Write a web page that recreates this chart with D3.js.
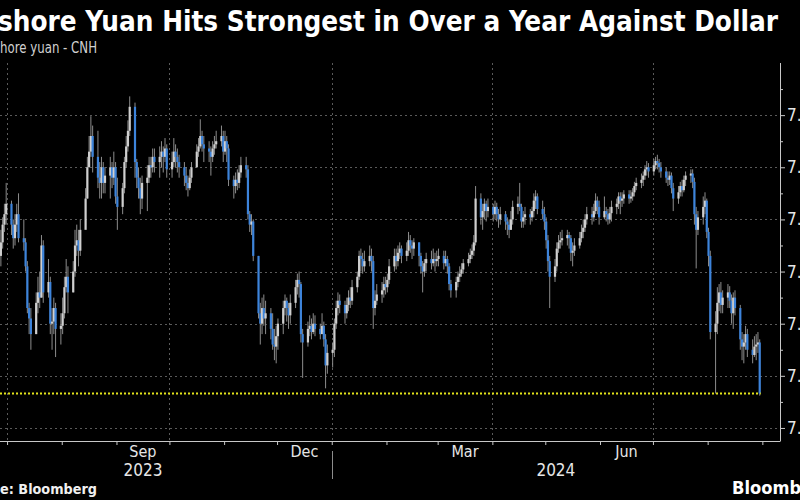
<!DOCTYPE html>
<html>
<head>
<meta charset="utf-8">
<script src="https://cdn.jsdelivr.net/npm/d3@7"></script>
<style>
  html, body { margin: 0; padding: 0; background: #000; }
  svg { display: block; }
</style>
</head>
<body>
<svg width="800" height="500"></svg>
<script>
// USD/CNH daily candles, Jun 27 2023 - Aug 30 2024 (weekdays)
const firstOpen = 7.215;
const closes = [
  // Jun 2023
  7.228, 7.245, 7.255, 7.265,
  // Jul
  7.245, 7.232, 7.245, 7.255, 7.232, 7.228, 7.205, 7.165, 7.155, 7.140, 7.170, 7.180, 7.175, 7.225, 7.180, 7.190, 7.150, 7.152, 7.165, 7.145, 7.148,
  // Aug
  7.160, 7.185, 7.195, 7.180, 7.200, 7.225, 7.230, 7.220, 7.240, 7.270, 7.300, 7.315, 7.330, 7.310, 7.290, 7.285, 7.300, 7.285, 7.292, 7.300, 7.290, 7.300, 7.272,
  // Sep
  7.262, 7.280, 7.305, 7.320, 7.335, 7.358, 7.305, 7.290, 7.280, 7.270, 7.285, 7.290, 7.302, 7.300, 7.310, 7.305, 7.310, 7.315, 7.310, 7.318, 7.298,
  // Oct
  7.305, 7.315, 7.310, 7.305, 7.300, 7.292, 7.285, 7.280, 7.290, 7.300, 7.315, 7.320, 7.330, 7.322, 7.318, 7.315, 7.310, 7.318, 7.322, 7.325, 7.330, 7.315,
  // Nov
  7.325, 7.318, 7.288, 7.282, 7.288, 7.285, 7.295, 7.302, 7.298, 7.255, 7.245, 7.248, 7.215, 7.160, 7.150, 7.165, 7.155, 7.160, 7.145, 7.130, 7.128, 7.138,
  // Dec
  7.150, 7.165, 7.172, 7.165, 7.158, 7.170, 7.185, 7.192, 7.188, 7.140, 7.132, 7.145, 7.148, 7.142, 7.150, 7.145, 7.140, 7.148, 7.135, 7.110, 7.122,
  // Jan 2024
  7.125, 7.150, 7.165, 7.172, 7.168, 7.160, 7.168, 7.175, 7.172, 7.185, 7.195, 7.215, 7.212, 7.205, 7.210, 7.215, 7.210, 7.165, 7.172, 7.178, 7.182, 7.188, 7.185,
  // Feb
  7.192, 7.205, 7.215, 7.210, 7.218, 7.222, 7.215, 7.220, 7.230, 7.225, 7.222, 7.228, 7.215, 7.205, 7.200, 7.208, 7.212, 7.208, 7.212, 7.210, 7.212,
  // Mar
  7.215, 7.208, 7.212, 7.205, 7.188, 7.182, 7.190, 7.195, 7.198, 7.202, 7.208, 7.212, 7.216, 7.220, 7.228, 7.270, 7.252, 7.258, 7.265, 7.258, 7.262,
  // Apr
  7.255, 7.262, 7.255, 7.250, 7.255, 7.248, 7.245, 7.240, 7.250, 7.262, 7.265, 7.262, 7.248, 7.252, 7.255, 7.252, 7.258, 7.268, 7.272, 7.260, 7.255, 7.248,
  // May
  7.230, 7.210, 7.195, 7.205, 7.222, 7.228, 7.230, 7.232, 7.235, 7.232, 7.218, 7.220, 7.225, 7.232, 7.238, 7.242, 7.250, 7.255, 7.252, 7.258, 7.268, 7.262, 7.252,
  // Jun
  7.258, 7.255, 7.250, 7.256, 7.262, 7.265, 7.272, 7.268, 7.270, 7.274, 7.270, 7.272, 7.276, 7.282, 7.285, 7.288, 7.292, 7.298, 7.300, 7.296,
  // Jul
  7.302, 7.306, 7.304, 7.300, 7.296, 7.290, 7.288, 7.292, 7.280, 7.270, 7.276, 7.282, 7.278, 7.288, 7.292, 7.294, 7.286, 7.255, 7.240, 7.252, 7.262, 7.268, 7.238,
  // Aug
  7.215, 7.142, 7.150, 7.170, 7.180, 7.168, 7.175, 7.180, 7.172, 7.160, 7.175, 7.165, 7.135, 7.128, 7.132, 7.140, 7.125, 7.120, 7.128, 7.130, 7.132, 7.083
];
const highs = [
  7.240, 7.252, 7.265, 7.285,
  7.268, 7.250, 7.255, 7.265, 7.275, 7.250, 7.232, 7.210, 7.170, 7.165, 7.180, 7.195, 7.200, 7.235, 7.230, 7.212, 7.195, 7.165, 7.175, 7.170, 7.160,
  7.175, 7.195, 7.212, 7.205, 7.210, 7.240, 7.245, 7.240, 7.250, 7.280, 7.310, 7.330, 7.349, 7.340, 7.335, 7.305, 7.310, 7.305, 7.300, 7.310, 7.305, 7.315, 7.305,
  7.290, 7.285, 7.310, 7.330, 7.345, 7.368, 7.362, 7.308, 7.300, 7.290, 7.292, 7.302, 7.310, 7.310, 7.318, 7.318, 7.320, 7.325, 7.320, 7.328, 7.322,
  7.315, 7.328, 7.322, 7.318, 7.312, 7.305, 7.300, 7.292, 7.298, 7.305, 7.322, 7.328, 7.346, 7.335, 7.330, 7.325, 7.320, 7.325, 7.330, 7.335, 7.340, 7.335,
  7.335, 7.330, 7.322, 7.292, 7.295, 7.298, 7.302, 7.310, 7.310, 7.302, 7.258, 7.255, 7.250, 7.215, 7.170, 7.175, 7.178, 7.172, 7.165, 7.160, 7.145, 7.148,
  7.155, 7.172, 7.178, 7.175, 7.170, 7.178, 7.192, 7.198, 7.200, 7.190, 7.145, 7.152, 7.158, 7.155, 7.160, 7.158, 7.150, 7.160, 7.152, 7.140, 7.130,
  7.132, 7.155, 7.172, 7.180, 7.178, 7.172, 7.175, 7.182, 7.185, 7.192, 7.200, 7.220, 7.222, 7.218, 7.220, 7.225, 7.222, 7.215, 7.182, 7.188, 7.190, 7.195, 7.195,
  7.198, 7.212, 7.222, 7.222, 7.225, 7.228, 7.225, 7.228, 7.238, 7.235, 7.230, 7.232, 7.228, 7.218, 7.210, 7.212, 7.218, 7.220, 7.222, 7.218, 7.220,
  7.222, 7.220, 7.220, 7.215, 7.208, 7.192, 7.195, 7.200, 7.205, 7.208, 7.212, 7.218, 7.222, 7.226, 7.235, 7.282, 7.275, 7.265, 7.270, 7.268, 7.270,
  7.265, 7.268, 7.266, 7.260, 7.262, 7.258, 7.252, 7.250, 7.258, 7.268, 7.272, 7.285, 7.265, 7.258, 7.262, 7.260, 7.262, 7.275, 7.278, 7.275, 7.268, 7.262,
  7.252, 7.235, 7.215, 7.212, 7.228, 7.235, 7.238, 7.240, 7.240, 7.238, 7.235, 7.228, 7.232, 7.238, 7.245, 7.250, 7.255, 7.262, 7.262, 7.265, 7.275, 7.272, 7.268,
  7.272, 7.262, 7.260, 7.262, 7.268, 7.270, 7.276, 7.276, 7.276, 7.278, 7.278, 7.278, 7.280, 7.286, 7.290, 7.294, 7.296, 7.302, 7.306, 7.304,
  7.308, 7.310, 7.312, 7.308, 7.305, 7.300, 7.296, 7.296, 7.295, 7.285, 7.282, 7.286, 7.288, 7.292, 7.296, 7.298, 7.298, 7.290, 7.262, 7.258, 7.272, 7.276, 7.270,
  7.242, 7.220, 7.162, 7.185, 7.188, 7.190, 7.182, 7.188, 7.186, 7.178, 7.180, 7.182, 7.168, 7.142, 7.140, 7.148, 7.145, 7.135, 7.138, 7.140, 7.142, 7.135
];
const lows = [
  7.205, 7.222, 7.238, 7.245,
  7.235, 7.222, 7.225, 7.238, 7.228, 7.220, 7.200, 7.160, 7.140, 7.125, 7.140, 7.160, 7.165, 7.175, 7.170, 7.175, 7.140, 7.125, 7.140, 7.118, 7.130,
  7.140, 7.155, 7.180, 7.160, 7.180, 7.195, 7.215, 7.205, 7.215, 7.245, 7.270, 7.300, 7.310, 7.295, 7.280, 7.270, 7.270, 7.275, 7.275, 7.270, 7.280, 7.283, 7.265,
  7.240, 7.255, 7.275, 7.300, 7.315, 7.330, 7.290, 7.280, 7.270, 7.255, 7.260, 7.258, 7.285, 7.290, 7.295, 7.295, 7.290, 7.300, 7.295, 7.305, 7.290,
  7.290, 7.300, 7.300, 7.295, 7.290, 7.282, 7.278, 7.272, 7.278, 7.285, 7.300, 7.310, 7.318, 7.315, 7.305, 7.305, 7.292, 7.305, 7.312, 7.318, 7.320, 7.305,
  7.312, 7.305, 7.282, 7.270, 7.275, 7.278, 7.280, 7.290, 7.290, 7.250, 7.238, 7.235, 7.210, 7.155, 7.130, 7.140, 7.148, 7.140, 7.135, 7.125, 7.115, 7.112,
  7.125, 7.140, 7.158, 7.152, 7.145, 7.150, 7.165, 7.178, 7.175, 7.132, 7.098, 7.128, 7.138, 7.135, 7.140, 7.138, 7.135, 7.142, 7.128, 7.088, 7.102,
  7.108, 7.118, 7.145, 7.158, 7.160, 7.150, 7.155, 7.162, 7.165, 7.168, 7.180, 7.192, 7.200, 7.198, 7.200, 7.205, 7.200, 7.145, 7.158, 7.168, 7.170, 7.175, 7.178,
  7.180, 7.188, 7.200, 7.202, 7.205, 7.212, 7.208, 7.210, 7.215, 7.218, 7.212, 7.215, 7.205, 7.198, 7.180, 7.195, 7.200, 7.202, 7.205, 7.200, 7.205,
  7.205, 7.202, 7.205, 7.198, 7.182, 7.175, 7.175, 7.185, 7.190, 7.195, 7.198, 7.205, 7.208, 7.212, 7.215, 7.225, 7.245, 7.240, 7.250, 7.248, 7.252,
  7.248, 7.250, 7.248, 7.242, 7.245, 7.240, 7.235, 7.232, 7.240, 7.245, 7.255, 7.258, 7.242, 7.242, 7.245, 7.245, 7.248, 7.252, 7.260, 7.255, 7.250, 7.240,
  7.222, 7.200, 7.165, 7.190, 7.200, 7.218, 7.222, 7.225, 7.225, 7.222, 7.210, 7.205, 7.215, 7.222, 7.228, 7.232, 7.238, 7.245, 7.245, 7.248, 7.255, 7.255, 7.245,
  7.250, 7.248, 7.245, 7.246, 7.248, 7.255, 7.260, 7.255, 7.262, 7.265, 7.265, 7.266, 7.268, 7.272, 7.278, 7.280, 7.282, 7.288, 7.292, 7.290,
  7.292, 7.298, 7.298, 7.295, 7.290, 7.285, 7.282, 7.283, 7.275, 7.258, 7.265, 7.272, 7.272, 7.276, 7.282, 7.285, 7.280, 7.245, 7.203, 7.235, 7.245, 7.255, 7.232,
  7.205, 7.135, 7.083, 7.140, 7.162, 7.160, 7.160, 7.165, 7.165, 7.150, 7.145, 7.158, 7.125, 7.115, 7.112, 7.125, 7.118, 7.112, 7.118, 7.115, 7.122, 7.081
];

const yTicks = [7.05, 7.10, 7.15, 7.20, 7.25, 7.30, 7.35];
const monthLabels = ['Sep', 'Dec', 'Mar', 'Jun'];
const yearLabels = ['2023', '2024'];
const titleText = 'Offshore Yuan Hits Strongest in Over a Year Against Dollar';
const subtitleText = 'Offshore yuan - CNH';
const sourceText = 'Source: Bloomberg';

const font = "'Liberation Sans Narrow', 'DejaVu Sans Condensed', 'Arial Narrow', sans-serif";

// trading days (weekdays)
const dates = d3.timeDay.range(new Date(2023, 5, 27), new Date(2024, 7, 31))
    .filter(d => d.getDay() !== 0 && d.getDay() !== 6);

const n = Math.min(dates.length, closes.length, highs.length, lows.length);
const candles = d3.range(n).map(i => ({
    date: d3.timeHour.offset(dates[i], 12),
    open: i ? closes[i - 1] : firstOpen,
    close: closes[i],
    high: highs[i],
    low: lows[i]
}));

const svg = d3.select('svg');
svg.append('rect').attr('width', 800).attr('height', 500).attr('fill', '#000');

const plotTop = 63, plotBottom = 441, plotRight = 780;

const x = d3.scaleTime()
    .domain([new Date(2023, 5, 27), new Date(2024, 8, 11)])
    .range([0, plotRight]);

const y = d3.scaleLinear()
    .domain([7.0375, 7.40])
    .range([plotBottom, plotTop]);

// grid
const grid = svg.append('g');
grid.selectAll('.hgrid')
    .data(yTicks)
    .enter().append('line')
    .attr('x1', 0).attr('x2', plotRight)
    .attr('y1', d => Math.round(y(d)) + 0.5).attr('y2', d => Math.round(y(d)) + 0.5)
    .style('stroke', '#5a5a5a')
    .style('stroke-dasharray', '2,3');

const quarters = d3.timeMonth.every(3).range(new Date(2023, 6, 1), new Date(2024, 8, 1));
grid.selectAll('.vgrid')
    .data(quarters)
    .enter().append('line')
    .attr('x1', d => Math.round(x(d)) + 0.5).attr('x2', d => Math.round(x(d)) + 0.5)
    .attr('y1', plotTop).attr('y2', plotBottom)
    .style('stroke', '#5a5a5a')
    .style('stroke-dasharray', '2,3');

// candles
const cg = svg.append('g');
cg.selectAll('.wick')
    .data(candles)
    .enter().append('line')
    .attr('x1', d => x(d.date)).attr('x2', d => x(d.date))
    .attr('y1', d => y(d.high)).attr('y2', d => y(d.low))
    .style('stroke', '#8c8c8c')
    .style('stroke-width', 1);

cg.selectAll('.body')
    .data(candles)
    .enter().append('rect')
    .attr('x', d => x(d.date) - 1.1)
    .attr('width', 2.2)
    .attr('y', d => y(Math.max(d.open, d.close)))
    .attr('height', d => Math.max(1, Math.abs(y(d.open) - y(d.close))))
    .style('fill', d => d.close < d.open ? '#3d84db' : '#cfcfcf');

// last price line
const last = candles[candles.length - 1];
svg.append('line')
    .attr('x1', 0).attr('x2', x(last.date) + 1)
    .attr('y1', y(last.close)).attr('y2', y(last.close))
    .style('stroke', '#e3e31a')
    .style('stroke-width', 2)
    .style('stroke-dasharray', '2,2');

// right axis (labels run off the right edge, as in the original crop)
const yAxis = svg.append('g')
    .attr('transform', `translate(${plotRight},0)`)
    .call(d3.axisRight(y).tickValues(yTicks).tickSize(5).tickPadding(2).tickFormat(d3.format('.2f')));
svg.append('g')
    .attr('transform', `translate(${plotRight},0)`)
    .call(d3.axisRight(y).tickValues(yTicks.map(v => v + 0.025)).tickSize(3).tickFormat(''))
    .call(g => g.select('.domain').remove());
yAxis.select('.domain').attr('d', `M0.5,${plotTop}V${plotBottom}`);

// bottom axis
const xAxis = svg.append('g')
    .attr('transform', `translate(0,${plotBottom})`)
    .call(d3.axisBottom(x).ticks(d3.timeMonth.every(1)).tickSize(4).tickFormat(''));
xAxis.select('.domain').attr('d', `M0,0.5H${plotRight + 0.5}`);

svg.selectAll('.domain, .tick line').style('stroke', '#c8c8c8');
yAxis.selectAll('text')
    .style('fill', '#e6e6e6')
    .style('font-family', font)
    .style('font-size', '17px');

// month labels at the middle of each labelled month
const labelMonths = [new Date(2023, 8, 1), new Date(2023, 11, 1), new Date(2024, 2, 1), new Date(2024, 5, 1)];
svg.selectAll('.mlab')
    .data(labelMonths)
    .enter().append('text')
    .attr('x', d => (x(d) + x(d3.timeMonth.offset(d, 1))) / 2)
    .attr('y', 457)
    .attr('text-anchor', 'middle')
    .style('fill', '#e6e6e6')
    .style('font-family', font)
    .style('font-size', '16px')
    .text((d, i) => monthLabels[i]);

svg.selectAll('.ylab')
    .data(yearLabels)
    .enter().append('text')
    .attr('x', (d, i) => i === 0
        ? (x(labelMonths[0]) + x(d3.timeMonth.offset(labelMonths[0], 1))) / 2
        : (x(new Date(2024, 0, 1)) + plotRight) / 2)
    .attr('y', 476)
    .attr('text-anchor', 'middle')
    .style('fill', '#e6e6e6')
    .style('font-family', font)
    .style('font-size', '17px')
    .text(d => d);

svg.append('line')
    .attr('x1', Math.round(x(new Date(2024, 0, 1))) + 0.5)
    .attr('x2', Math.round(x(new Date(2024, 0, 1))) + 0.5)
    .attr('y1', 451).attr('y2', 479)
    .style('stroke', '#8c8c8c');

// texts cropped at the picture edge like the original: the part from
// character `from` to character `to` is stretched over [left, right]
function fitText(str, from, to, left, right, baseline, size, weight, fill) {
    const t = svg.append('text')
        .attr('x', 0)
        .attr('y', baseline)
        .style('font-family', font)
        .style('font-size', size + 'px')
        .style('font-weight', weight)
        .style('fill', fill)
        .text(str);
    const node = t.node();
    const full = node.getComputedTextLength();
    const a = node.getStartPositionOfChar(from).x;
    const b = to < str.length ? node.getStartPositionOfChar(to).x : full;
    const k = (right - left) / (b - a);
    t.attr('textLength', full * k)
        .attr('lengthAdjust', 'spacingAndGlyphs')
        .attr('x', left - a * k);
    return t;
}

fitText(titleText, 3, titleText.length, -2, 778, 31, 28, 'bold', '#fff');
fitText(subtitleText, 4, subtitleText.length, 0, 97, 53, 15, 'normal', '#d0d0d0');
fitText(sourceText, 5, sourceText.length, 0, 97, 494, 14, 'bold', '#f0f0f0');

svg.append('text')
    .attr('x', 732).attr('y', 494)
    .attr('textLength', 100)
    .attr('lengthAdjust', 'spacingAndGlyphs')
    .style('font-family', font)
    .style('font-size', '17px')
    .style('font-weight', '600')
    .style('fill', '#fff')
    .text('Bloomberg');
</script>
</body>
</html>
